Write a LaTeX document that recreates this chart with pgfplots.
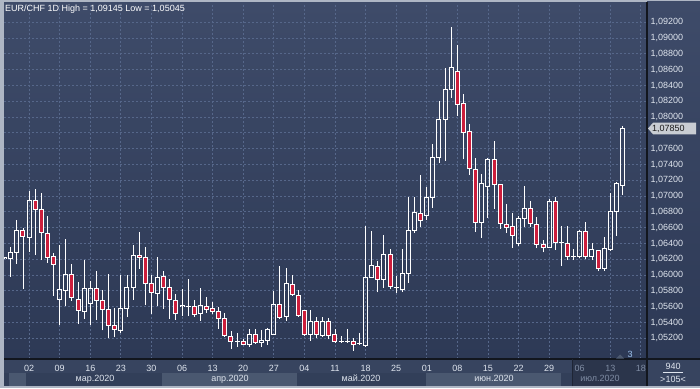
\documentclass[border=0pt]{standalone}
\usepackage{pgfplots}
\pgfplotsset{compat=1.18}
\usepackage{pgfplotstable}
\usepackage{fontspec}
\setmainfont{Liberation Sans}
\definecolor{bgtop}{HTML}{3E4B69}
\definecolor{bgbot}{HTML}{2D3955}
\definecolor{gridc}{HTML}{56678A}
\definecolor{candred}{HTML}{CC1E3C}
\definecolor{txt}{HTML}{DFE5EE}
\definecolor{dimtxt}{HTML}{7F8CA3}
\definecolor{framec}{HTML}{AEB6C4}
\definecolor{dayrow}{HTML}{37445F}
\definecolor{monrow}{HTML}{323F59}
\definecolor{monbox}{HTML}{4A5870}
\definecolor{futbg}{HTML}{2B354B}
\definecolor{sepc}{HTML}{12161E}
\definecolor{sep2}{HTML}{1E2535}
\definecolor{pricebox}{HTML}{C9CDD3}
\definecolor{pricetxt}{HTML}{1B1B1B}
\definecolor{tri}{HTML}{4D5A70}
\definecolor{bluetxt}{HTML}{9EC3EE}
\newcommand\chfont{\fontsize{9}{10}\selectfont}

\pgfplotstableread{
x o h l c
-4 1.06220 1.06232 1.06208 1.06222
-3 1.06213 1.06356 1.05981 1.06289
-2 1.06289 1.06698 1.06145 1.06567
0 1.06479 1.07065 1.06289 1.06947
5 1.05694 1.06382 1.05373 1.05820
6 1.05808 1.06458 1.05614 1.06010
9 1.05538 1.06192 1.05449 1.05833
10 1.05643 1.05922 1.05365 1.05833
15 1.05297 1.06006 1.05263 1.05580
16 1.05580 1.05998 1.05474 1.05846
17 1.05846 1.06382 1.05685 1.06251
21 1.05770 1.06225 1.05614 1.05972
25 1.05609 1.05820 1.05487 1.05611
26 1.05607 1.05951 1.05487 1.05607
28 1.05517 1.05833 1.05424 1.05609
34 1.05158 1.05272 1.05095 1.05158
36 1.05120 1.05314 1.05095 1.05251
38 1.05145 1.05306 1.05095 1.05170
39 1.05175 1.05331 1.05120 1.05314
40 1.05251 1.05799 1.05242 1.05630
42 1.05470 1.06095 1.05424 1.05896
46 1.05251 1.05559 1.05170 1.05415
48 1.05234 1.05474 1.05221 1.05415
51 1.05154 1.05225 1.05137 1.05154
52 1.05154 1.05314 1.05137 1.05154
54 1.05137 1.05263 1.05116 1.05137
55 1.05103 1.06622 1.05086 1.05972
56 1.05972 1.06559 1.05970 1.06116
58 1.05939 1.06508 1.05841 1.06263
60 1.05841 1.05989 1.05770 1.05841
61 1.05820 1.06331 1.05782 1.06023
62 1.06023 1.06994 1.05896 1.06559
63 1.06559 1.06994 1.06529 1.06795
65 1.06749 1.07120 1.06698 1.06985
66 1.06985 1.07660 1.06854 1.07491
67 1.07491 1.08205 1.07424 1.07973
68 1.07973 1.08618 1.07449 1.08344
69 1.08344 1.09145 1.08247 1.08631
74 1.06669 1.07281 1.06474 1.07162
75 1.07124 1.07487 1.06728 1.07466
80 1.06403 1.06749 1.06373 1.06719
81 1.06719 1.07133 1.06605 1.06842
85 1.06352 1.06968 1.06350 1.06934
87 1.06411 1.06622 1.06120 1.06411
89 1.06238 1.06327 1.06192 1.06238
90 1.06234 1.06572 1.06225 1.06555
92 1.06234 1.06403 1.06192 1.06318
94 1.06086 1.06479 1.06057 1.06339
95 1.06318 1.07044 1.06310 1.06808
96 1.06808 1.07175 1.06496 1.07154
97 1.07133 1.07888 1.07015 1.07850
}\upc

\pgfplotstableread{
x o h l c
-1 1.06567 1.06593 1.05829 1.06491
1 1.06947 1.07091 1.06255 1.06833
2 1.06833 1.07040 1.06196 1.06542
3 1.06529 1.06749 1.06158 1.06225
4 1.06238 1.06276 1.05740 1.06137
7 1.06010 1.06141 1.05677 1.05715
8 1.05694 1.05909 1.05386 1.05554
11 1.05833 1.06052 1.05436 1.05681
12 1.05681 1.05812 1.05301 1.05567
13 1.05567 1.06014 1.05200 1.05365
14 1.05365 1.05588 1.05213 1.05318
18 1.06251 1.06546 1.06082 1.06225
19 1.06225 1.06356 1.05622 1.05896
20 1.05896 1.06006 1.05512 1.05782
22 1.05981 1.06052 1.05576 1.05846
23 1.05846 1.05955 1.05449 1.05694
24 1.05681 1.05761 1.05436 1.05512
27 1.05609 1.05685 1.05474 1.05504
29 1.05605 1.05723 1.05525 1.05567
30 1.05580 1.05664 1.05504 1.05542
31 1.05542 1.05601 1.05322 1.05449
32 1.05449 1.05517 1.05221 1.05238
33 1.05225 1.05289 1.05069 1.05162
35 1.05158 1.05196 1.05116 1.05124
37 1.05251 1.05314 1.05132 1.05145
41 1.05630 1.06112 1.05445 1.05462
43 1.05884 1.06006 1.05736 1.05757
44 1.05744 1.05812 1.05474 1.05491
45 1.05554 1.05560 1.05234 1.05251
47 1.05415 1.05474 1.05208 1.05255
49 1.05419 1.05453 1.05187 1.05230
50 1.05251 1.05314 1.05145 1.05158
53 1.05166 1.05200 1.05045 1.05124
57 1.06107 1.06183 1.05782 1.05939
59 1.06263 1.06327 1.05820 1.05854
64 1.06787 1.07268 1.06614 1.06698
70 1.08576 1.08914 1.08015 1.08162
71 1.08175 1.08293 1.07466 1.07808
72 1.07812 1.07914 1.07264 1.07344
73 1.07340 1.07487 1.06550 1.06669
76 1.07466 1.07698 1.06837 1.07150
77 1.07150 1.07155 1.06584 1.06656
78 1.06643 1.06901 1.06538 1.06605
79 1.06614 1.06783 1.06348 1.06496
82 1.06842 1.06934 1.06614 1.06648
83 1.06639 1.06740 1.06339 1.06394
84 1.06386 1.06445 1.06289 1.06352
86 1.06934 1.06994 1.06318 1.06415
88 1.06403 1.06622 1.06192 1.06234
91 1.06555 1.06677 1.06200 1.06234
93 1.06306 1.06318 1.06057 1.06086
}\downc

\begin{document}
\begin{tikzpicture}
\useasboundingbox (0pt,0pt) rectangle (700pt,388pt);
% frame and panels
\fill[framec] (0pt,0pt) rectangle (700pt,388pt);
\shade[top color=bgtop, bottom color=bgbot] (647pt,29pt) rectangle (700pt,386pt);
\fill[dayrow] (4pt,15pt) rectangle (647pt,29pt);
\fill[monrow] (4pt,2pt) rectangle (647pt,15pt);
\fill[dayrow] (647pt,2pt) rectangle (700pt,29pt);
\fill[monbox] (8.5pt,2pt) rectangle (26pt,15pt);
\fill[monbox] (161.7pt,2pt) rectangle (296.7pt,15pt);
\fill[monbox] (426pt,2pt) rectangle (561pt,15pt);
\fill[futbg] (572pt,2pt) rectangle (647pt,29pt);

\begin{axis}[
  at={(4pt,29pt)}, anchor=south west,
  scale only axis, width=643pt, height=356pt,
  xmin=-4.1, xmax=101, ymin=1.04938, ymax=1.09444,
  axis line style={draw=none},
  axis background/.style={top color=bgtop, bottom color=bgbot},
  grid=major,
  major grid style={gridc, line width=0.8pt, dash pattern=on 2pt off 2pt},
  major tick length=0pt,
  clip marker paths=true,
  xtick={0,5,...,100},
  xticklabels={02,09,16,23,30,06,13,20,27,04,11,18,25,01,08,15,22,29,\textcolor{dimtxt}{06},\textcolor{dimtxt}{13},\textcolor{dimtxt}{18}},
  xticklabel style={anchor=base, yshift=-12pt, text=txt, font=\chfont},
  ytick={1.052,1.054,1.056,1.058,1.060,1.062,1.064,1.066,1.068,1.070,1.072,1.074,1.076,1.080,1.082,1.084,1.086,1.088,1.090,1.092},
  extra y ticks={1.078},
  extra y tick labels={},
  extra y tick style={grid=major},
  yticklabel pos=right,
  scaled y ticks=false,
  yticklabel={\pgfmathprintnumber[fixed,fixed zerofill,precision=5,use comma,assume math mode=true]{\tick}},
  yticklabel style={anchor=west, text=txt, font=\chfont},
]
% ---- up candles (hollow) ----
\addplot[draw=none, mark=none, error bars/.cd, y dir=plus, y explicit, error mark=none,
  error bar style={draw=white, line width=0.9pt}]
  table[x=x, y=c, y error plus expr=\thisrow{h}-\thisrow{c}] {\upc};
\addplot[draw=none, mark=none, error bars/.cd, y dir=minus, y explicit, error mark=none,
  error bar style={draw=white, line width=0.9pt}]
  table[x=x, y=o, y error minus expr=\thisrow{o}-\thisrow{l}] {\upc};
\addplot[draw=none, mark=none, error bars/.cd, y dir=plus, y explicit, error mark=none,
  error bar style={draw=white, line width=1pt}]
  table[x expr=\thisrow{x}-0.327, y=o, y error plus expr=\thisrow{c}-\thisrow{o}] {\upc};
\addplot[draw=none, mark=none, error bars/.cd, y dir=plus, y explicit, error mark=none,
  error bar style={draw=white, line width=1pt}]
  table[x expr=\thisrow{x}+0.327, y=o, y error plus expr=\thisrow{c}-\thisrow{o}] {\upc};
\addplot[only marks, mark=-, mark size=2.5pt, mark options={draw=white, line width=1pt}]
  table[x=x, y=o] {\upc};
\addplot[only marks, mark=-, mark size=2.5pt, mark options={draw=white, line width=1pt}]
  table[x=x, y=c] {\upc};
% ---- down candles (red) ----
\addplot[draw=none, mark=none, error bars/.cd, y dir=plus, y explicit, error mark=none,
  error bar style={draw=white, line width=0.9pt}]
  table[x=x, y=l, y error plus expr=\thisrow{h}-\thisrow{l}] {\downc};
\addplot[draw=none, mark=none, error bars/.cd, y dir=both, y explicit, error mark=none,
  error bar style={draw=white, line width=5pt}]
  table[x=x, y expr=(\thisrow{o}+\thisrow{c})/2, y error expr=(\thisrow{o}-\thisrow{c})/2+0.0000633] {\downc};
\addplot[draw=none, mark=none, error bars/.cd, y dir=both, y explicit, error mark=none,
  error bar style={draw=candred, line width=3pt}]
  table[x=x, y expr=(\thisrow{o}+\thisrow{c})/2, y error expr={max((\thisrow{o}-\thisrow{c})/2-0.0000633,0)}] {\downc};
\end{axis}

% separators
\draw[sepc, line width=1.5pt] (4pt,29pt) -- (700pt,29pt);
\draw[sepc, line width=1.2pt] (647pt,2pt) -- (647pt,386pt);
\draw[sep2, line width=1pt] (572pt,2pt) -- (572pt,29pt);

% title
\node[anchor=base west, inner sep=0pt, text=white, font=\chfont] at (5pt,376.5pt)
  {EUR/CHF 1D High = 1,09145 Low = 1,05045};

% month labels
\node[anchor=base, inner sep=0pt, text=txt, font=\chfont] at (95pt,6.5pt) {мар.2020};
\node[anchor=base, inner sep=0pt, text=txt, font=\chfont] at (230pt,6.5pt) {апр.2020};
\node[anchor=base, inner sep=0pt, text=txt, font=\chfont] at (361pt,6.5pt) {май.2020};
\node[anchor=base, inner sep=0pt, text=txt, font=\chfont] at (494pt,6.5pt) {июн.2020};
\node[anchor=base, inner sep=0pt, text=dimtxt, font=\chfont] at (600pt,6.5pt) {июл.2020};

% price label
\fill[pricebox] (648pt,259.5pt) -- (653pt,265.3pt) -- (696pt,265.3pt) -- (696pt,253.7pt) -- (653pt,253.7pt) -- cycle;
\node[anchor=west, inner sep=0pt, text=pricetxt, font=\chfont] at (652pt,259.5pt) {1,07850};

% corner
\node[anchor=center, inner sep=0pt, text=txt, font=\chfont] at (673pt,22pt) {940};
\draw[txt, line width=0.6pt] (663pt,15.5pt) -- (683pt,15.5pt);
\node[anchor=center, inner sep=0pt, text=txt, font=\chfont] at (673pt,8.5pt) {>105<};

% misc
\fill[tri] (616pt,29.5pt) -- (624pt,29.5pt) -- (620pt,33.5pt) -- cycle;
\node[anchor=center, inner sep=0pt, text=bluetxt, font=\chfont] at (630pt,34pt) {3};
\end{tikzpicture}
\end{document}
